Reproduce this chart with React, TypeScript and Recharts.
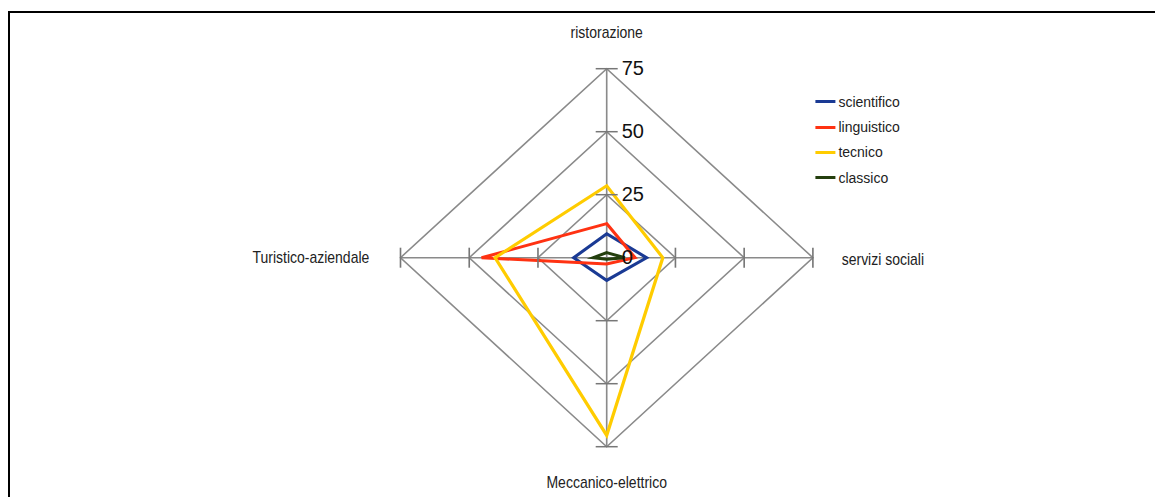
import React from 'react';
import { RadarChart, Radar, PolarGrid, PolarAngleAxis, PolarRadiusAxis, Legend } from 'recharts';

const categories = ['ristorazione', 'servizi sociali', 'Meccanico-elettrico', 'Turistico-aziendale'];
const scientifico = [9.5, 14.5, 9, 12];
const linguistico = [13.5, 10.3, 2.5, 45.5];
const tecnico = [28.5, 20.4, 70.5, 40.6];
const classico = [2, 6.6, 0.6, 4.9];
const radiusTicks = [0, 25, 50, 75];

const series = [
  { key: 'scientifico', color: '#1a3a94' },
  { key: 'linguistico', color: '#ff3212' },
  { key: 'tecnico', color: '#ffcc00' },
  { key: 'classico', color: '#243f0e' },
];

const data = categories.map((c, i) => ({
  category: c,
  scientifico: scientifico[i],
  linguistico: linguistico[i],
  tecnico: tecnico[i],
  classico: classico[i],
}));

const S = 1.091; // horizontal stretch of the original picture
const W = 1155;
const H = 489;
const CX = 598.7;
const CY = 249.7;
const R = 189;
const FONT = '"Liberation Sans", Arial, sans-serif';
const GRID = '#8a8a8a';

function AngleTick(props: any) {
  const { x, y, payload } = props;
  const dx = x - CX;
  const dy = y - CY;
  let tx = x;
  let ty = y;
  let anchor: any = 'middle';
  if (Math.abs(dy) > Math.abs(dx)) {
    if (dy < 0) ty = CY - R - 30.7;
    else ty = CY + R + 41.3;
  } else if (dx > 0) {
    tx = CX + R + 26.4;
    ty = CY + 7.3;
    anchor = 'start';
  } else {
    tx = CX - R - 28.6;
    ty = CY + 5.3;
    anchor = 'end';
  }
  return (
    <text
      transform={`translate(${tx},${ty}) scale(${0.875 / S},1)`}
      textAnchor={anchor}
      fontSize={16}
      fill="#222"
      fontFamily={FONT}
    >
      {payload.value}
    </text>
  );
}

function RadiusTick(props: any) {
  const { x, y, payload } = props;
  const r = CY - y;
  const mh = 11 / S;
  const lp = { stroke: '#777', strokeWidth: 1.5 };
  return (
    <g>
      {r > 1 && (
        <>
          <line x1={x - mh} x2={x + mh} y1={y} y2={y} {...lp} />
          <line x1={x - mh} x2={x + mh} y1={CY + r} y2={CY + r} {...lp} />
          <line x1={CX + r} x2={CX + r} y1={CY - 10} y2={CY + 10} {...lp} />
          <line x1={CX - r} x2={CX - r} y1={CY - 10} y2={CY + 10} {...lp} />
        </>
      )}
      <text
        transform={`translate(${x + 15 / S},${y - 1}) scale(${1 / S},1)`}
        textAnchor="start"
        dominantBaseline="central"
        fontSize={20}
        fill="#111"
        fontFamily={FONT}
      >
        {payload.value}
      </text>
    </g>
  );
}

function LegendContent() {
  return (
    <div style={{ transform: `scaleX(${1 / S})`, transformOrigin: 'left top', fontFamily: FONT }}>
      {series.map((s) => (
        <div key={s.key} style={{ display: 'flex', alignItems: 'center', height: 25.4 }}>
          <div style={{ width: 20, height: 3, background: s.color, marginRight: 3 }} />
          <span style={{ fontSize: 14, color: '#222', whiteSpace: 'nowrap' }}>{s.key}</span>
        </div>
      ))}
    </div>
  );
}

export default function App() {
  return (
    <div style={{ position: 'relative', width: W, height: H, overflow: 'hidden', background: '#fff' }}>
      <div
        style={{
          position: 'absolute',
          left: 0,
          top: 3,
          width: 1300,
          height: 700,
          border: '2px solid #000',
          boxSizing: 'border-box',
        }}
      />
      <div
        style={{
          position: 'absolute',
          left: 0,
          top: 0,
          transform: `scaleX(${S})`,
          transformOrigin: `${CX}px ${CY}px`,
        }}
      >
        <RadarChart
          width={W}
          height={H}
          data={data}
          cx={CX}
          cy={CY}
          outerRadius={R}
          margin={{ top: 0, right: 0, bottom: 0, left: 0 }}
        >
          <PolarGrid gridType="polygon" stroke={GRID} strokeWidth={1.5} />
          <PolarAngleAxis dataKey="category" tick={<AngleTick />} tickLine={false} axisLine={false} />
          <PolarRadiusAxis
            angle={90}
            type="number"
            domain={[0, 75]}
            ticks={radiusTicks as any}
            tickCount={4}
            axisLine={false}
            tick={<RadiusTick />}
          />
          {series.map((s) => (
            <Radar
              key={s.key}
              name={s.key}
              dataKey={s.key}
              stroke={s.color}
              strokeWidth={3}
              fill="none"
              fillOpacity={0}
              isAnimationActive={false}
              dot={false}
            />
          ))}
          <Legend
            content={<LegendContent />}
            layout="vertical"
            align="right"
            verticalAlign="top"
            wrapperStyle={{ position: 'absolute', left: CX + (807 - CX) / S, top: 81, width: 'auto' }}
          />
        </RadarChart>
      </div>
    </div>
  );
}
